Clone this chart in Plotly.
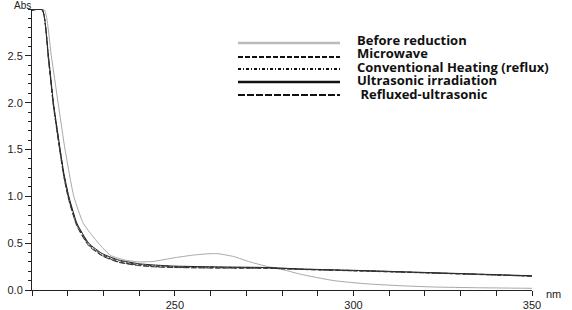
import plotly.graph_objects as go

# ---------------- data ----------------
wl = [210, 212.9, 214.6, 216.0, 217.5, 218.9, 220.3, 222.6, 225.9, 229.6, 234.3,
      240, 245, 250, 257, 265, 276, 285, 304, 322, 335, 350]
ultrasonic = [2.99, 2.99, 2.50, 2.00, 1.60, 1.25, 1.00, 0.71, 0.50, 0.39, 0.32,
              0.28, 0.265, 0.255, 0.25, 0.245, 0.24, 0.225, 0.206, 0.185, 0.17, 0.152]
microwave = [2.99, 2.99, 2.47, 1.97, 1.57, 1.22, 0.97, 0.69, 0.48, 0.37, 0.30,
             0.265, 0.25, 0.243, 0.238, 0.235, 0.232, 0.22, 0.20, 0.18, 0.165, 0.148]
conventional = [2.99, 2.99, 2.49, 1.99, 1.59, 1.24, 0.99, 0.70, 0.49, 0.38, 0.31,
                0.272, 0.258, 0.25, 0.245, 0.242, 0.238, 0.223, 0.205, 0.183, 0.168, 0.15]
refluxed = [2.99, 2.99, 2.46, 1.96, 1.56, 1.21, 0.96, 0.68, 0.47, 0.365, 0.295,
            0.26, 0.245, 0.24, 0.236, 0.234, 0.232, 0.22, 0.202, 0.182, 0.166, 0.147]

wl_before = [210, 213.45, 215.4, 217.3, 219.25, 221.7, 224.4, 228.6, 232, 236, 240, 244,
             250, 255, 259, 262, 266.5, 271, 276, 280.5, 285, 294.5, 304, 313,
             322.5, 335, 350]
before = [2.99, 2.99, 2.50, 2.00, 1.50, 1.00, 0.71, 0.50, 0.37, 0.32, 0.30, 0.305,
          0.345, 0.372, 0.386, 0.388, 0.357, 0.30, 0.25, 0.215, 0.17, 0.10, 0.065, 0.046,
          0.032, 0.024, 0.018]

names = ["Before reduction", "Microwave", "Conventional Heating (reflux)",
         "Ultrasonic irradiation", "Refluxed-ultrasonic"]
y_ticks = [0.0, 0.5, 1.0, 1.5, 2.0, 2.5]
x_ticks = [250, 300, 350]

# ---------------- styles ----------------
styles = [
    dict(color="#a8a8a8", dash="solid", width=1.0),
    dict(color="#333333", dash="4px,2px", width=1.0),
    dict(color="#333333", dash="4px,2px,1px,2px", width=1.0),
    dict(color="#222222", dash="solid", width=1.0),
    dict(color="#333333", dash="6px,2px", width=1.0),
]
legend_styles = [
    dict(color="#bbbbbb", dash="solid", width=2.5),
    dict(color="#111111", dash="5px,2px", width=1.8),
    dict(color="#111111", dash="3px,2px,1px,2px", width=1.8),
    dict(color="#111111", dash="solid", width=2.5),
    dict(color="#111111", dash="7px,2px", width=1.8),
]

series = [(wl_before, before), (wl, microwave), (wl, conventional), (wl, ultrasonic), (wl, refluxed)]

fig = go.Figure()
for (xs, ys), nm, st in zip(series, names, styles):
    fig.add_trace(go.Scatter(x=xs, y=ys, mode="lines", name=nm, showlegend=False,
                             line=dict(shape="spline", smoothing=0.5, **st)))

# the page body margin is removed (post_script below), so the figure fills the window
W, H = 572, 310
ML, MR, MT, MB = 32, 40, 9, 20
PW, PH = W - ML - MR, H - MT - MB


def px_x(p):
    return (p - ML) / PW


def px_y(p):
    return (H - MB - p) / PH


# custom legend (long line samples) + one multi-line text block
line_y = [43, 57, 69, 82, 95]
shapes = []
for i, nm in enumerate(names):
    shapes.append(dict(type="line", xref="paper", yref="paper",
                       x0=px_x(238), x1=px_x(340), y0=px_y(line_y[i]), y1=px_y(line_y[i]),
                       line=legend_styles[i]))

legend_lines = [f'<span style="font-size:13px">{nm}</span>' for nm in names]
legend_lines[-1] = '<span style="font-size:13px">\u00a0' + names[-1] + '</span>'
annotations = [dict(xref="paper", yref="paper", x=px_x(356), y=px_y(30),
                    text="<br>".join(legend_lines), showarrow=False,
                    xanchor="left", yanchor="top", align="left", borderpad=0,
                    font=dict(family="Open Sans", size=10.3, color="#111111", weight="bold"))]

annotations.append(dict(xref="paper", yref="paper", x=px_x(22), y=px_y(6), text="Abs",
                        showarrow=False, xanchor="center", yanchor="middle", borderpad=0,
                        font=dict(family="Liberation Sans", size=10, color="#222222")))
annotations.append(dict(xref="paper", yref="paper", x=px_x(553), y=px_y(294), text="nm",
                        showarrow=False, xanchor="center", yanchor="middle",
                        font=dict(family="Liberation Sans", size=11, color="#222222")))

fig.update_layout(
    width=W, height=H,
    margin=dict(l=ML, r=MR, t=MT, b=MB, pad=0, autoexpand=False),
    paper_bgcolor="white", plot_bgcolor="white",
    shapes=shapes, annotations=annotations,
    font=dict(family="Liberation Sans", size=11, color="#222222"),
    showlegend=False,
)
fig.update_xaxes(range=[210, 350], showgrid=False, zeroline=False, automargin=False,
                 showline=True, linecolor="#222222", linewidth=1,
                 tickmode="array", tickvals=x_ticks, ticks="outside", ticklen=5,
                 tickcolor="#222222", tickwidth=1,
                 minor=dict(dtick=10, tick0=210, ticks="outside", ticklen=5,
                            tickcolor="#222222", tickwidth=1, showgrid=False))
fig.update_yaxes(range=[0, 3.0], showgrid=False, zeroline=False, automargin=False,
                 showline=True, linecolor="#222222", linewidth=1,
                 tickmode="array", tickvals=y_ticks, tickformat=".1f",
                 ticks="outside", ticklen=6, tickcolor="#222222", tickwidth=1,
                 minor=dict(dtick=0.1, tick0=0, ticks="outside", ticklen=3,
                            tickcolor="#222222", tickwidth=1, showgrid=False))

fig.write_html("out.html", config={"displayModeBar": False},
               post_script="document.body.style.margin='0';document.body.style.overflow='hidden';")
